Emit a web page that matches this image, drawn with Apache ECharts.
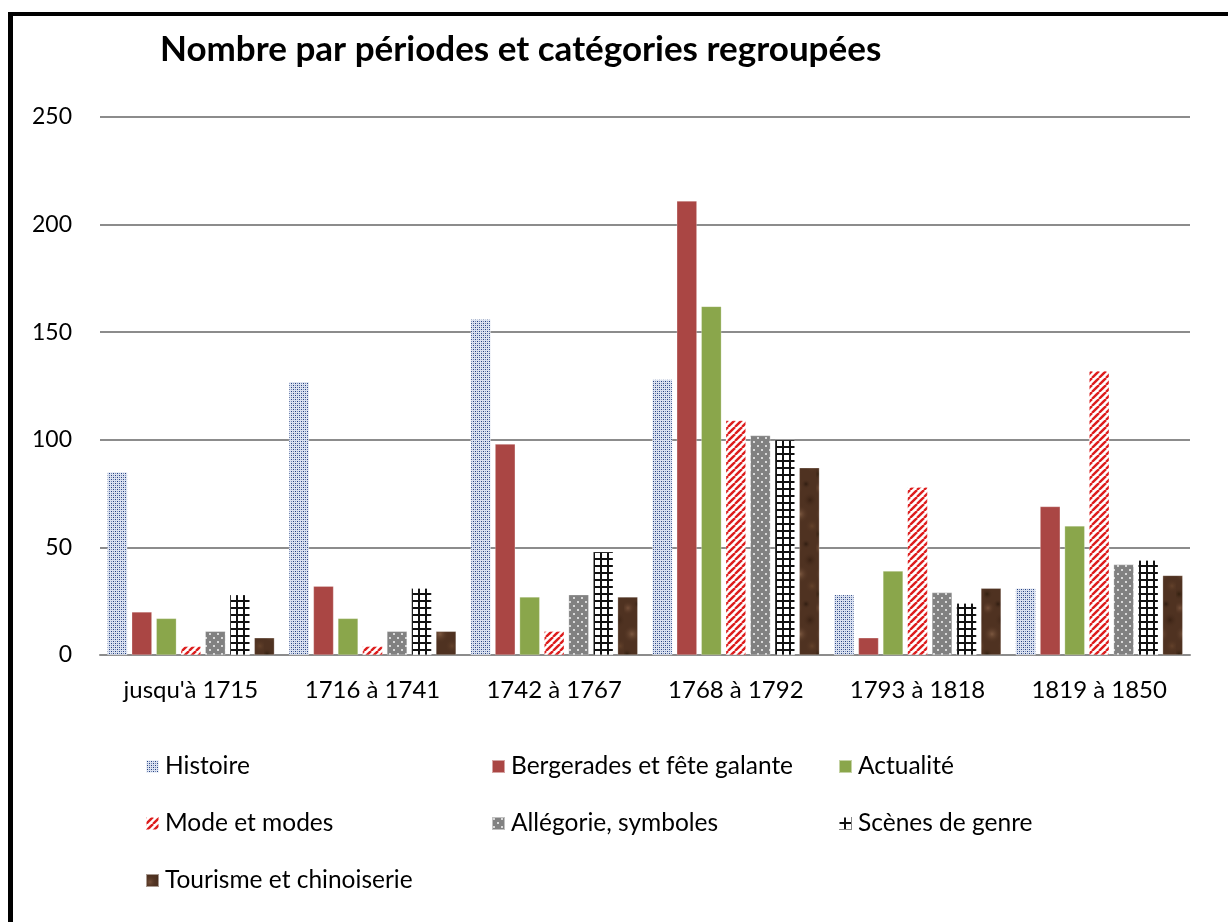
<!DOCTYPE html>
<html>
<head>
    <meta charset="UTF-8">
    <title>Nombre par périodes et catégories regroupées</title>
    <script src="https://cdn.jsdelivr.net/npm/echarts@6/dist/echarts.min.js"></script>
    <style type="text/css">
    * { margin: 0; padding: 0; }
    body { background-color: #fff; }
    #chart { width: 1228px; height: 922px; }
    </style>
</head>
<body>
<div id="chart"></div>
<script>
    // données
    var periodes = ["jusqu'à 1715", "1716 à 1741", "1742 à 1767", "1768 à 1792", "1793 à 1818", "1819 à 1850"];
    var histoire = [85, 127, 156, 128, 28, 31];
    var bergerades = [20, 32, 98, 211, 8, 69];
    var actualite = [17, 17, 27, 162, 39, 60];
    var mode = [4, 4, 11, 109, 78, 132];
    var allegorie = [11, 11, 28, 102, 29, 42];
    var scenes = [28, 31, 48, 100, 24, 44];
    var tourisme = [8, 11, 27, 87, 31, 37];
    var yTicks = [0, 50, 100, 150, 200, 250];

    // motifs de remplissage
    function motif(w, h, dessin) {
        var c = document.createElement('canvas');
        c.width = w; c.height = h;
        dessin(c.getContext('2d'));
        return { image: c, repeat: 'repeat' };
    }
    var pHistoire = motif(4, 4, function (g) {
        g.fillStyle = '#dbe2f0'; g.fillRect(0, 0, 4, 4);
        g.fillStyle = '#23407f';
        g.fillRect(1, 1, 1, 1); g.fillRect(3, 3, 1, 1);
        g.fillStyle = '#7587b5';
        g.fillRect(3, 1, 1, 1); g.fillRect(1, 3, 1, 1);
    });
    var pMode = motif(7, 7, function (g) {
        g.fillStyle = '#fff'; g.fillRect(0, 0, 7, 7);
        g.strokeStyle = '#dd1c1c'; g.lineWidth = 2.4;
        for (var k = -7; k <= 14; k += 7) {
            g.beginPath(); g.moveTo(k, 7); g.lineTo(k + 7, 0); g.stroke();
        }
    });
    var pAllegorie = motif(8, 8, function (g) {
        g.fillStyle = '#818181'; g.fillRect(0, 0, 8, 8);
        g.fillStyle = '#d8d8d8';
        g.fillRect(1, 1, 2, 2); g.fillRect(5, 5, 2, 2);
    });
    var pScenes = motif(7, 7, function (g) {
        g.fillStyle = '#fff'; g.fillRect(0, 0, 7, 7);
        g.fillStyle = '#111';
        g.fillRect(0, 5, 7, 2); g.fillRect(5, 0, 2, 7);
    });
    var pTourisme = motif(24, 60, function (g) {
        g.fillStyle = '#4f3221'; g.fillRect(0, 0, 24, 60);
        var taches = [[4, 8, 7, '#75503a'], [18, 20, 8, '#3a2214'], [8, 34, 9, '#7c5840'],
                      [20, 46, 7, '#64422b'], [3, 54, 6, '#33200f'], [14, 4, 5, '#2f1c10']];
        taches.forEach(function (t) {
            var r = g.createRadialGradient(t[0], t[1], 0, t[0], t[1], t[2]);
            r.addColorStop(0, t[3]); r.addColorStop(1, 'rgba(79,50,33,0)');
            g.fillStyle = r; g.fillRect(0, 0, 24, 60);
        });
    });

    var noms = ['Histoire', 'Bergerades et fête galante', 'Actualité', 'Mode et modes',
                'Allégorie, symboles', 'Scènes de genre', 'Tourisme et chinoiserie'];
    var valeurs = [histoire, bergerades, actualite, mode, allegorie, scenes, tourisme];
    var couleurs = [pHistoire, '#aa4644', '#8aa64b', pMode, pAllegorie, pScenes, pTourisme];

    // position des entrées de légende (colonne, ligne)
    var colX = [145, 491, 838];
    var rowY = [754, 811, 868];

    var police = 'Lato, "Open Sans", sans-serif';

    var series = noms.map(function (n, i) {
        return {
            name: n,
            type: 'bar',
            data: valeurs[i],
            barGap: '22%',
            barCategoryGap: '8%',
            itemStyle: { color: couleurs[i], borderColor: 'rgba(255,255,255,0.5)', borderWidth: 0.5 }
        };
    });

    var legendes = noms.map(function (n, i) {
        return {
            data: [n],
            left: colX[i % 3],
            top: rowY[Math.floor(i / 3)],
            padding: 0,
            itemWidth: 13,
            itemHeight: 13,
            icon: 'rect',
            textStyle: { fontFamily: police, fontSize: 24.5, color: '#000', padding: [0, 0, 0, 1] }
        };
    });

    var chart = echarts.init(document.getElementById('chart'), null, {renderer: 'canvas'});
    chart.setOption({
        animation: false,
        title: {
            text: 'Nombre par périodes et catégories regroupées',
            left: 155,
            top: 27,
            textStyle: { fontFamily: police, fontSize: 35, fontWeight: 'bold', color: '#000' }
        },
        legend: legendes,
        grid: { left: 100, right: 38, top: 117, bottom: 267 },
        xAxis: {
            type: 'category',
            data: periodes,
            axisLine: { lineStyle: { color: '#8c8c8c', width: 2 } },
            axisTick: { show: false },
            axisLabel: { fontFamily: police, fontSize: 24, color: '#000', margin: 23 }
        },
        yAxis: {
            type: 'value',
            min: yTicks[0],
            max: yTicks[yTicks.length - 1],
            interval: 50,
            axisLine: { show: false },
            axisTick: { show: false },
            axisLabel: { fontFamily: police, fontSize: 23, color: '#000', margin: 28 },
            splitLine: { lineStyle: { color: '#8c8c8c', width: 2 } }
        },
        graphic: [
            { type: 'rect', shape: { x: 8, y: 12, width: 5, height: 910 }, style: { fill: '#000' } },
            { type: 'rect', shape: { x: 8, y: 12, width: 1220, height: 4 }, style: { fill: '#000' } }
        ],
        series: series
    });
</script>
</body>
</html>
